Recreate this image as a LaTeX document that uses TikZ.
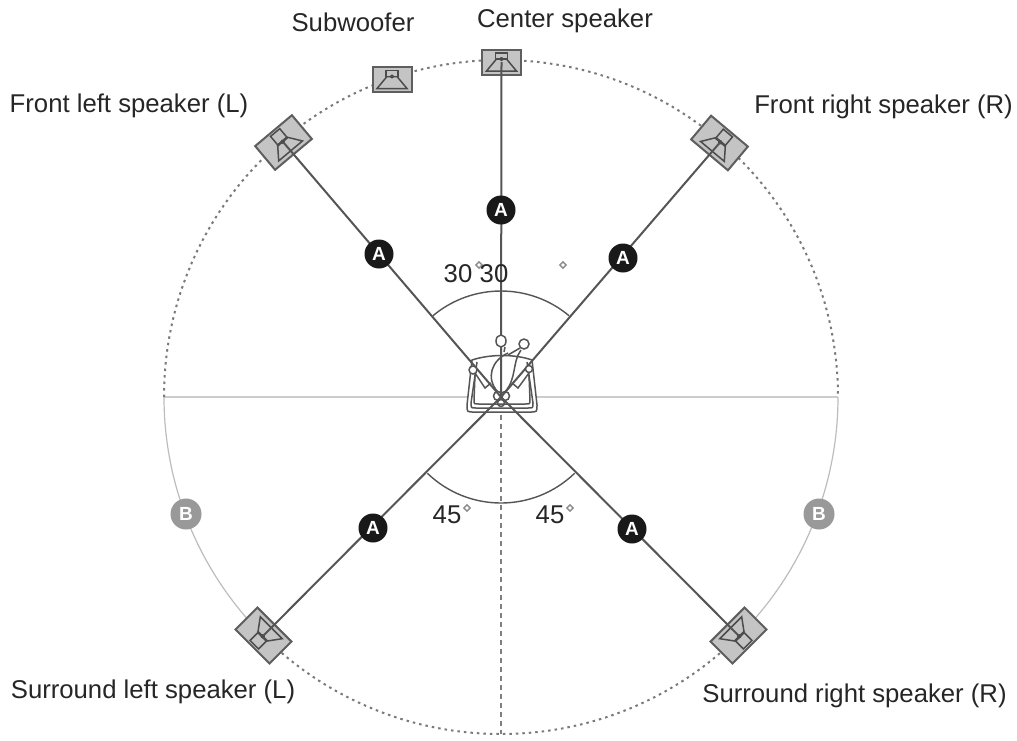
\documentclass[tikz,border=0pt]{standalone}
\usepackage{fontspec}
\setmainfont{Liberation Sans}
\usetikzlibrary{shapes.geometric}
\definecolor{ln}{HTML}{555555}
\definecolor{spkfill}{HTML}{C4C4C4}
\definecolor{spkedge}{HTML}{5E5E5E}
\definecolor{dots}{HTML}{7A7A7A}
\definecolor{pale}{HTML}{BDBDBD}
\tikzset{
  label text/.style={font=\fontsize{25.7}{28}\selectfont,text=black!85,inner sep=0pt,anchor=center},
  spkbig/.style={draw=spkedge,fill=spkfill,line width=2pt,minimum width=48pt,minimum height=31pt,inner sep=0pt},
  spksmall/.style={draw=spkedge,fill=spkfill,line width=2pt,minimum width=39pt,minimum height=25pt,inner sep=0pt},
  wire/.style={draw=ln,line width=2pt},
  mark a/.style={circle,fill=black!90,text=white,font=\fontsize{19}{20}\selectfont\bfseries,minimum size=29pt,inner sep=0pt},
  mark b/.style={circle,fill=black!40,text=white,font=\fontsize{19}{20}\selectfont\bfseries,minimum size=31pt,inner sep=0pt},
  deg/.style={diamond,draw=black!45,line width=1.4pt,fill=white,minimum size=7pt,inner sep=0pt},
  ringdot/.style={draw=dots,line width=2pt,dash pattern=on 2.5pt off 4pt},
  ringsolid/.style={draw=pale,line width=1.2pt},
  chair/.style={draw=ln,line width=1.5pt},
  driver/.style={draw=black!70,line width=1.5pt},
  pics/cone/.style={code={
      \draw[driver] (-5,-3) -- (5,-3) -- (15,9) -- (-15,9) -- cycle;
      \draw[driver,fill=spkfill] (-6,-9) rectangle (6,-3);
      \fill[black!70] (0,-3) circle (2);
  }},
  pics/bigcone/.style={code={
    \begin{scope}[rotate=#1]
      \draw[driver] (-6,-2) -- (6,-2) -- (15.5,11) -- (-15.5,11) -- cycle;
      \draw[driver] (-6,-13) rectangle (6,-1);
      \fill[black!70] (0,-1) circle (2.2);
    \end{scope}
  }}
}
\begin{document}
\begin{tikzpicture}[x=1pt,y=-1pt]
\useasboundingbox (0,0) rectangle (1017,740);
\fill[white] (0,0) rectangle (1017,740);

% axes
\coordinate (lc) at (501,397);
\coordinate (hl) at (164,397);
\coordinate (hr) at (838,397);
\coordinate (vb) at (501,734);
\draw[draw=black!20,line width=2pt] (hl) -- (hr);
\draw[draw=black!50,line width=1.2pt,dash pattern=on 5pt off 4pt] (lc) -- (vb);

% ring and angle arcs (y-up, centred on listener)
\begin{scope}[y=1pt,shift={(501pt,-397pt)}]
  \draw[ringdot] (180:337) arc[start angle=180,end angle=0,radius=337];
  \draw[ringsolid] (180:337) arc[start angle=180,end angle=225,radius=337];
  \draw[ringdot] (225:337) arc[start angle=225,end angle=315,radius=337];
  \draw[ringsolid] (315:337) arc[start angle=315,end angle=360,radius=337];
  \draw[draw=ln,line width=1.4pt] (130:106) arc[start angle=130,end angle=50,radius=106];
  \draw[draw=ln,line width=1.4pt] (226:106) arc[start angle=226,end angle=314,radius=106];
\end{scope}

% speakers
\node[spksmall] (sub) at (392,79.5) {};
\node[spksmall] (cs) at (501.5,62) {};
\node[spkbig,rotate=40] (fl) at (283.5,142.5) {};
\node[spkbig,rotate=-40] (fr) at (719.5,143) {};
\node[spkbig,rotate=135] (sl) at (263.5,635.5) {};
\node[spkbig,rotate=-135] (sr) at (738.5,635.5) {};
\pic at (sub.center) {cone};
\pic at (cs.center) {cone};
\pic at (fl.center) {bigcone=40};
\pic at (fr.center) {bigcone=-40};
\pic at (sl.center) {bigcone=135};
\pic at (sr.center) {bigcone=-135};

% chair body, behind the wires
\draw[chair,fill=white] (472,360) .. controls (490,354) and (515,354) .. (532,360) -- (537,405) .. controls (537,412) .. (530,412) -- (474,412) .. controls (467,412) .. (467,405) -- cycle;

% wires
\draw[wire] (lc) -- (cs.center);
\draw[wire] (lc) -- (fl.center);
\draw[wire] (lc) -- (fr.center);
\draw[wire] (lc) -- (sl.center);
\draw[wire] (lc) -- (sr.center);

% listener
\draw[chair] (477,362) -- (471,403) .. controls (471,408) .. (476,408) -- (528,408) .. controls (533,408) .. (533,403) -- (527,362);
\draw[chair] (475,375) -- (474,400) .. controls (474,404) .. (479,404) -- (525,404) .. controls (530,404) .. (530,400) -- (529,375);
\draw[chair,fill=white] (501,341) ellipse (5 and 6);
\draw[chair,fill=white] (524,344) circle (5);
\draw[chair] (520,348) -- (508,355) (505,347) -- (504,352);
\draw[chair] (508,353) .. controls (492,360) and (485,378) .. (498,392);
\draw[chair] (521,350) .. controls (512,362) and (517,378) .. (505,392);
\draw[chair,fill=white] (473,370) circle (4);
\draw[chair,fill=white] (529,369) circle (3.5);
\draw[chair] (475,373) -- (485,388) -- (491,383);
\draw[chair] (529,373) -- (518,388) -- (512,383);
\draw[chair] (498,396) circle (4.5) (505,396) circle (4.5) (501,403) circle (3.5);

% marks
\node[mark a] (a1) at (379,254) {A};
\node[mark a] (a2) at (501,210) {A};
\node[mark a] (a3) at (623,258) {A};
\node[mark a] (a4) at (373,528) {A};
\node[mark a] (a5) at (632,529) {A};
\node[mark b] (b1) at (186,514) {B};
\node[mark b] (b2) at (819,514) {B};

% angle texts
\node[deg] (d1) at (479,265) {};
\node[deg] (d2) at (563,265) {};
\node[deg] (d3) at (467,508) {};
\node[deg] (d4) at (570,508) {};
\node[label text] (t1) at (458,274) {30};
\node[label text] (t2) at (494,274) {30};
\node[label text] (t3) at (447,515) {45};
\node[label text] (t4) at (550,515) {45};

% speaker names
\node[label text] (n1) at (353,22) {Subwoofer};
\node[label text] (n2) at (565,21) {Center speaker};
\node[label text] (n3) at (129,106) {Front left speaker (L)};
\node[label text] (n4) at (883.5,107) {Front right speaker (R)};
\node[label text] (n5) at (153,692) {Surround left speaker (L)};
\node[label text] (n6) at (854.5,696) {Surround right speaker (R)};
\end{tikzpicture}
\end{document}
